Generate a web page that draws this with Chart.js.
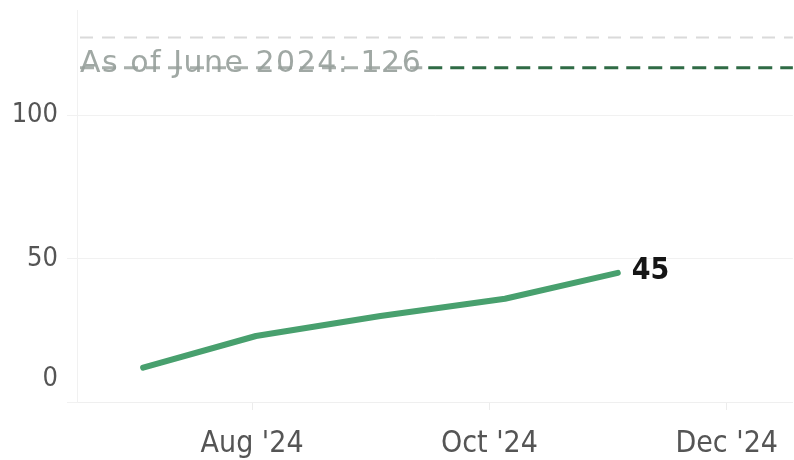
<!DOCTYPE html>
<html>
<head>
<meta charset="utf-8">
<script src="https://cdn.jsdelivr.net/npm/chart.js@4.4.1/dist/chart.umd.min.js"></script>
<style>
  html, body { margin: 0; padding: 0; background: #fff; }
  #wrap { width: 794px; height: 460px; position: relative; }
</style>
</head>
<body>
<div id="wrap"><canvas id="chart"></canvas></div>
<script>
// data
const dates = ["2024-07-04", "2024-08-02", "2024-09-03", "2024-10-05", "2024-11-03"];
const counts = [12, 23, 30, 36, 45];
const tickDates = ["2024-08-01", "2024-10-01", "2024-12-01"];
const tickLabels = ["Aug '24", "Oct '24", "Dec '24"];
const xRange = ["2024-06-17", "2024-12-18"];
const yTicks = [0, 50, 100];
const yMax = 136.5;
const baselineValue = 127;
const targetValue = 116.5;
const baselineLabel = "As of June 2024: 126";

// days since 1 July 2024
function day(s) {
  const [y, m, d] = s.split("-").map(Number);
  return (Date.UTC(y, m - 1, d) - Date.UTC(2024, 6, 1)) / 86400000;
}

const tickDays = tickDates.map(day);
const points = dates.map((d, i) => ({ x: day(d), y: counts[i] }));

const extras = {
  id: "extras",
  afterDatasetsDraw(chart) {
    const { ctx, chartArea: a, scales: { x, y } } = chart;
    ctx.save();

    // zero label sits a little above its line
    ctx.font = "27px 'DejaVu Sans Condensed'";
    ctx.fillStyle = "#555";
    ctx.textAlign = "right";
    ctx.textBaseline = "middle";
    ctx.fillText("0", a.left - 19, y.getPixelForValue(0) - 23);

    // light reference line
    const yb = y.getPixelForValue(baselineValue);
    ctx.setLineDash([13, 9]);
    ctx.lineWidth = 2;
    ctx.strokeStyle = "#dadada";
    ctx.beginPath(); ctx.moveTo(a.left + 3, yb); ctx.lineTo(a.right, yb); ctx.stroke();

    // label + target line
    const yt = y.getPixelForValue(targetValue);
    ctx.font = "30px 'DejaVu Sans'";
    ctx.letterSpacing = "1.5px";
    const tx = a.left + 3;
    const tw = ctx.measureText(baselineLabel).width;

    ctx.lineWidth = 3;
    ctx.setLineDash([14, 8]);
    ctx.strokeStyle = "#a9b0ac";
    ctx.beginPath(); ctx.moveTo(tx, yt); ctx.lineTo(tx + tw, yt); ctx.stroke();
    ctx.strokeStyle = "#2f6b45";
    ctx.beginPath(); ctx.moveTo(tx + tw + 6, yt); ctx.lineTo(a.right, yt); ctx.stroke();

    ctx.setLineDash([]);
    ctx.fillStyle = "rgba(150,158,154,0.9)";
    ctx.textBaseline = "alphabetic";
    ctx.textAlign = "left";
    ctx.fillText(baselineLabel, tx, yt + 4);

    // value at the end of the line
    const last = points[points.length - 1];
    ctx.letterSpacing = "0px";
    ctx.font = "bold 30px 'DejaVu Sans Condensed'";
    ctx.fillStyle = "#151515";
    ctx.textBaseline = "middle";
    ctx.fillText(String(last.y), x.getPixelForValue(last.x) + 14, y.getPixelForValue(last.y) - 2);
    ctx.restore();
  }
};

new Chart(document.getElementById("chart"), {
  type: "line",
  data: {
    datasets: [{
      data: points,
      borderColor: "#48a06e",
      borderWidth: 6,
      borderCapStyle: "round",
      borderJoinStyle: "round",
      pointRadius: 0,
      tension: 0
    }]
  },
  options: {
    responsive: true,
    maintainAspectRatio: false,
    animation: false,
    layout: { padding: { top: 3, right: 0, left: 0, bottom: 0 } },
    plugins: { legend: { display: false }, tooltip: { enabled: false } },
    scales: {
      x: {
        type: "linear",
        min: day(xRange[0]),
        max: day(xRange[1]),
        afterBuildTicks: s => { s.ticks = tickDays.map(v => ({ value: v })); },
        afterFit: s => { s.height = 58; },
        ticks: {
          callback: (v) => tickLabels[tickDays.indexOf(v)],
          color: "#555",
          font: { family: "'DejaVu Sans Condensed'", size: 30 },
          padding: 16,
          maxRotation: 0,
          autoSkip: false
        },
        grid: { drawOnChartArea: false, color: "#ececec", tickLength: 8 },
        border: { color: "#efefef" }
      },
      y: {
        min: 0,
        max: yMax,
        afterBuildTicks: s => { s.ticks = yTicks.map(v => ({ value: v })); },
        afterFit: s => { s.width = 77; },
        ticks: {
          callback: (v) => v === 0 ? "" : String(v),
          color: "#555",
          // tiny line height so the top tick does not pad the chart area
          font: { family: "'DejaVu Sans Condensed'", size: 27, lineHeight: 0.1 },
          padding: 9
        },
        grid: { color: "#f1f1f1", tickLength: 10 },
        border: { color: "#f1f1f1" }
      }
    }
  },
  plugins: [extras]
});
</script>
</body>
</html>
